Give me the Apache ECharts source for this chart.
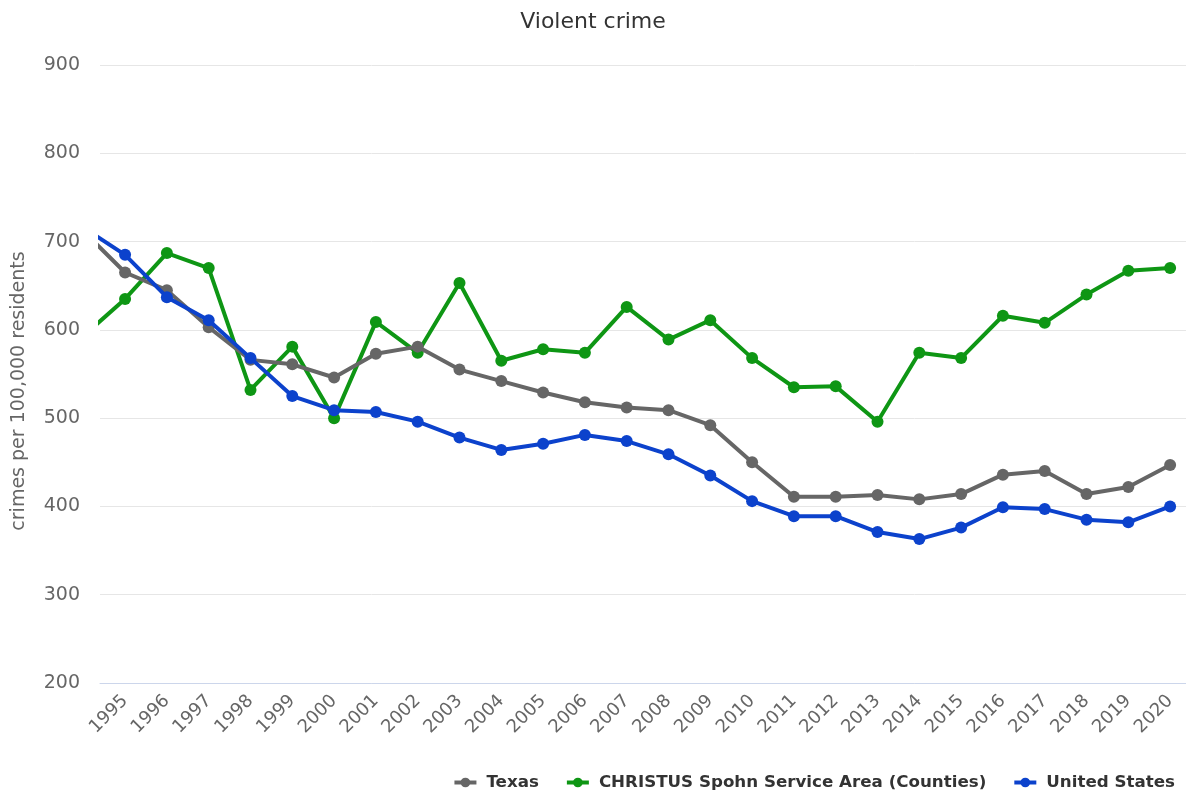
<!DOCTYPE html>
<html>
<head>
<meta charset="utf-8">
<script src="https://cdn.jsdelivr.net/npm/echarts@6/dist/echarts.min.js"></script>
<style>html,body{margin:0;padding:0;background:#fff}#c{width:1186px;height:799px}</style>
</head>
<body>
<div id="c"></div>
<script>
const years = [1994,1995,1996,1997,1998,1999,2000,2001,2002,2003,2004,2005,2006,2007,2008,2009,2010,2011,2012,2013,2014,2015,2016,2017,2018,2019,2020];
const tickYears = [1995,1996,1997,1998,1999,2000,2001,2002,2003,2004,2005,2006,2007,2008,2009,2010,2011,2012,2013,2014,2015,2016,2017,2018,2019,2020];
const texas = [712,665,645,603,566,561,546,573,581,555,542,529,518,512,509,492,450,411,411,413,408,414,436,440,414,422,447];
const christus = [593,635,687,670,532,581,500,609,574,653,565,578,574,626,589,611,568,535,536,496,574,568,616,608,640,667,670];
const us = [716,685,637,611,568,525,509,507,496,478,464,471,481,474,459,435,406,389,389,371,363,376,399,397,385,382,400];
const seriesNames = ['Texas','CHRISTUS Spohn Service Area (Counties)','United States'];
const colors = ['#666666','#0e9614','#0c42cc'];
const yAxisTitle = 'crimes per 100,000 residents';

const pairs = arr => years.map((y,i)=>[y,arr[i]]);
const font = 'DejaVu Sans';
const chart = echarts.init(document.getElementById('c'));
chart.setOption({
  animation:false,
  textStyle:{fontFamily:font},
  title:{text:'Violent crime',left:'center',top:6,textStyle:{fontFamily:font,fontSize:22,fontWeight:'normal',color:'#333333'}},
  legend:{bottom:3,right:6,itemWidth:22,itemHeight:12,itemGap:26,
    lineStyle:{width:4},
    textStyle:{fontFamily:font,fontSize:16.7,fontWeight:'bold',color:'#333333',padding:[0,0,0,5]},
    data:seriesNames},
  graphic:[{type:'text',x:19,y:391,rotation:Math.PI/2,
    style:{text:yAxisTitle,fontFamily:font,fontSize:19,fill:'#666666',align:'center',verticalAlign:'middle'}}],
  grid:{left:100,right:0,top:65,bottom:116,containLabel:false},
  xAxis:{type:'value',min:1994.4,max:2020.38,
    axisLine:{show:true,lineStyle:{color:'#ccd6eb',width:1}},
    axisTick:{show:false},
    splitLine:{show:false},
    axisLabel:{customValues:tickYears,rotate:45,fontSize:18,color:'#666666',margin:15,fontFamily:font,
      formatter:v=>String(Math.round(v))}},
  yAxis:{type:'value',min:200,max:900,interval:100,
    axisLine:{show:false},axisTick:{show:false},
    axisLabel:{fontSize:19,color:'#666666',margin:20,fontFamily:font},
    splitLine:{lineStyle:{color:'#e6e6e6',width:1}}},
  series:[texas,christus,us].map((d,i)=>({
    name:seriesNames[i],type:'line',data:pairs(d),clip:true,
    symbol:'circle',symbolSize:12,showAllSymbol:true,
    lineStyle:{width:4,color:colors[i]},
    itemStyle:{color:colors[i]},
    z:i===2?4:(i===0?3:2)
  }))
});
</script>
</body>
</html>
